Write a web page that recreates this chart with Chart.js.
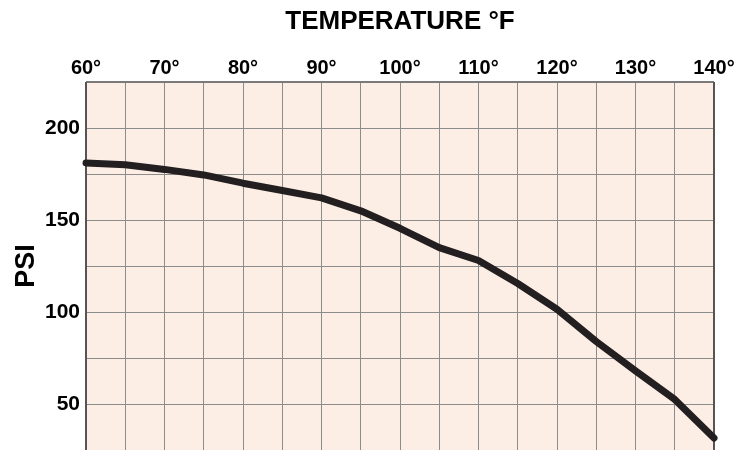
<!DOCTYPE html>
<html>
<head>
<meta charset="utf-8">
<script src="https://cdn.jsdelivr.net/npm/chart.js@4.4.1/dist/chart.umd.min.js"></script>
<style>
  html, body { margin: 0; padding: 0; background: #fff; }
  #wrap { width: 752px; height: 450px; }
</style>
</head>
<body>
<div id="wrap"><canvas id="psiChart"></canvas></div>
<script>
// Datos
const temps = [60, 65, 70, 75, 80, 85, 90, 95, 100, 105, 110, 115, 120, 125, 130, 135, 140];
const psi = [181, 180, 177.5, 174.5, 170, 166, 162, 155, 145.5, 135, 128, 115.5, 101.5, 84, 68, 52.5, 31.5];
const xLabels = [60, 70, 80, 90, 100, 110, 120, 130, 140];
const yLabels = [50, 100, 150, 200];

const FONT = "'Liberation Sans', Arial, Helvetica, sans-serif";

// fondo y marco del área de la gráfica
const plotFrame = {
  id: 'plotFrame',
  beforeDraw(chart) {
    const { ctx, chartArea: a } = chart;
    ctx.save();
    ctx.fillStyle = '#fdeee5';
    ctx.fillRect(a.left, a.top, a.right - a.left, a.bottom - a.top);
    ctx.restore();
  },
  beforeDatasetsDraw(chart) {
    const { ctx, chartArea: a } = chart;
    ctx.save();
    ctx.lineWidth = 2;
    ctx.strokeStyle = '#7a7a7a';
    ctx.beginPath();
    ctx.moveTo(a.left, a.top);
    ctx.lineTo(a.right, a.top);
    ctx.stroke();
    ctx.strokeStyle = '#555';
    ctx.beginPath();
    ctx.moveTo(a.left, a.top);
    ctx.lineTo(a.left, a.bottom);
    ctx.moveTo(a.right, a.top);
    ctx.lineTo(a.right, a.bottom);
    ctx.stroke();
    ctx.restore();
  }
};

const ctx = document.getElementById('psiChart').getContext('2d');
const chart = new Chart(ctx, {
  type: 'line',
  data: {
    datasets: [{
      data: temps.map((t, i) => ({ x: t, y: psi[i] })),
      borderColor: '#231f20',
      borderWidth: 7,
      borderCapStyle: 'round',
      borderJoinStyle: 'round',
      pointRadius: 0,
      tension: 0,
      fill: false,
      clip: false
    }]
  },
  options: {
    responsive: true,
    maintainAspectRatio: false,
    animation: false,
    layout: { padding: { left: 0, right: 38, top: 0, bottom: 0 } },
    plugins: {
      legend: { display: false },
      tooltip: { enabled: false }
    },
    scales: {
      x: {
        type: 'linear',
        position: 'top',
        min: 60,
        max: 140,
        afterFit(scale) {
          scale.height = 82;
          scale.paddingLeft = 0;
          scale.paddingRight = 0;
        },
        border: { display: false },
        grid: { color: '#8c8c8c', lineWidth: 1, drawTicks: false },
        ticks: {
          stepSize: 5,
          autoSkip: false,
          maxRotation: 0,
          padding: 2,
          color: '#000',
          font: { family: FONT, size: 20, weight: 'bold' },
          callback: v => xLabels.includes(v) ? v + '°' : ''
        },
        title: {
          display: true,
          text: 'TEMPERATURE °F',
          color: '#000',
          font: { family: FONT, size: 26, weight: 'bold' },
          padding: { top: 6, bottom: 0 }
        }
      },
      y: {
        type: 'linear',
        min: 25,
        max: 225,
        afterFit(scale) {
          scale.width = 86;
          scale.paddingTop = 0;
          scale.paddingBottom = 0;
        },
        border: { display: false },
        grid: { color: '#8c8c8c', lineWidth: 1, drawTicks: false },
        ticks: {
          stepSize: 25,
          autoSkip: false,
          padding: 6,
          color: '#000',
          font: { family: FONT, size: 21, weight: 'bold' },
          callback: v => yLabels.includes(v) ? String(v) : ''
        },
        title: {
          display: true,
          text: 'PSI',
          color: '#000',
          font: { family: FONT, size: 27, weight: 'bold' },
          padding: { top: 10, bottom: 0 }
        }
      }
    }
  },
  plugins: [plotFrame]
});
</script>
</body>
</html>
